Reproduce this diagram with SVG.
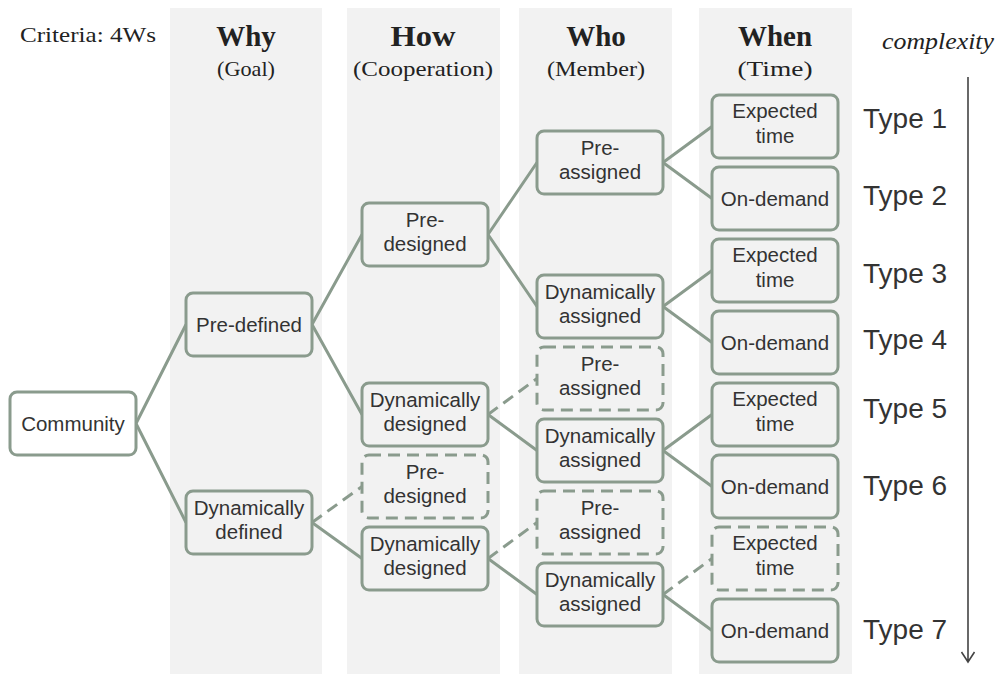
<svg xmlns="http://www.w3.org/2000/svg" width="998" height="674" viewBox="0 0 998 674">
<style>
.band{fill:#f2f2f2}
.node{fill:#f2f2f2;stroke:#8a9b8d;stroke-width:3}
.dash{stroke-dasharray:12 7}
.white{fill:#ffffff}
.t{font-family:"Liberation Sans",Arial,sans-serif;font-size:20.5px;fill:#333;text-anchor:middle}
.hd{font-family:"Liberation Serif","Times New Roman",serif;font-weight:bold;font-size:29px;fill:#222;text-anchor:middle}
.sub{font-family:"Liberation Serif","Times New Roman",serif;font-size:22px;fill:#222;text-anchor:middle}
.type{font-family:"Liberation Sans",Arial,sans-serif;font-size:28px;fill:#333}
.c{fill:none;stroke:#8a9b8d;stroke-width:3}
</style>
<rect width="998" height="674" fill="#ffffff"/>
<g id="bands">
<rect class="band" x="170" y="8" width="152" height="666"/>
<rect class="band" x="347" y="8" width="153" height="666"/>
<rect class="band" x="519" y="8" width="153" height="666"/>
<rect class="band" x="699" y="8" width="153" height="666"/>
</g>
<g id="headers">
<text x="20" y="42" font-family="'Liberation Serif', 'Times New Roman', serif" font-size="22" fill="#222" textLength="136" lengthAdjust="spacingAndGlyphs">Criteria: 4Ws</text>
<text class="hd" x="246" y="46">Why</text>
<text class="sub" x="246" y="76" textLength="58" lengthAdjust="spacingAndGlyphs">(Goal)</text>
<text class="hd" x="423" y="46" textLength="65" lengthAdjust="spacingAndGlyphs">How</text>
<text class="sub" x="423" y="76" textLength="140" lengthAdjust="spacingAndGlyphs">(Cooperation)</text>
<text class="hd" x="596" y="46">Who</text>
<text class="sub" x="596" y="76" textLength="98" lengthAdjust="spacingAndGlyphs">(Member)</text>
<text class="hd" x="775" y="46">When</text>
<text class="sub" x="775" y="76" textLength="75" lengthAdjust="spacingAndGlyphs">(Time)</text>
<text x="882" y="49" font-family="'Liberation Serif', 'Times New Roman', serif" font-style="italic" font-size="23" fill="#222" textLength="112" lengthAdjust="spacingAndGlyphs">complexity</text>
</g>
<g id="connectors">
<path class="c" d="M136 423.5 L186 324.5 M136 423.5 L186 522.5"/>
<path class="c" d="M312 324.5 L362 234.5 M312 324.5 L362 414.5 M312 522.5 L362 558.5"/>
<path class="c dash" d="M312 522.5 L362 486.5"/>
<path class="c" d="M488 234.5 L537 162.5 M488 234.5 L537 306.5 M488 414.5 L537 450.5 M488 558.5 L537 594.5"/>
<path class="c dash" d="M488 414.5 L537 378.5 M488 558.5 L537 522.5"/>
<path class="c" d="M663 162.5 L712 126.5 M663 162.5 L712 198.5 M663 306.5 L712 270.5 M663 306.5 L712 342.5 M663 450.5 L712 414.5 M663 450.5 L712 486.5 M663 594.5 L712 630.5"/>
<path class="c dash" d="M663 594.5 L712 558.5"/>
<path d="M968 77 L968 662 M961.5 652 L968 662 L974.5 652" fill="none" stroke="#444" stroke-width="1.6"/>
</g>
<g id="community"><rect class="node white" x="10" y="392" width="126" height="63" rx="7"/><text class="t" x="73" y="430.5">Community</text></g>
<g id="why-predefined"><rect class="node" x="186" y="293" width="126" height="63" rx="7"/><text class="t" x="249" y="331.5">Pre-defined</text></g>
<g id="why-dynamic"><rect class="node" x="186" y="491" width="126" height="63" rx="7"/><text class="t" x="249" y="515">Dynamically</text><text class="t" x="249" y="539">defined</text></g>
<g id="how-1"><rect class="node" x="362" y="203" width="126" height="63" rx="7"/><text class="t" x="425" y="227">Pre-</text><text class="t" x="425" y="251">designed</text></g>
<g id="how-2"><rect class="node" x="362" y="383" width="126" height="63" rx="7"/><text class="t" x="425" y="407">Dynamically</text><text class="t" x="425" y="431">designed</text></g>
<g id="how-3"><rect class="node dash" x="362" y="455" width="126" height="63" rx="7"/><text class="t" x="425" y="479">Pre-</text><text class="t" x="425" y="503">designed</text></g>
<g id="how-4"><rect class="node" x="362" y="527" width="126" height="63" rx="7"/><text class="t" x="425" y="551">Dynamically</text><text class="t" x="425" y="575">designed</text></g>
<g id="who-1"><rect class="node" x="537" y="131" width="126" height="63" rx="7"/><text class="t" x="600" y="155">Pre-</text><text class="t" x="600" y="179">assigned</text></g>
<g id="who-2"><rect class="node" x="537" y="275" width="126" height="63" rx="7"/><text class="t" x="600" y="299">Dynamically</text><text class="t" x="600" y="323">assigned</text></g>
<g id="who-3"><rect class="node dash" x="537" y="347" width="126" height="63" rx="7"/><text class="t" x="600" y="371">Pre-</text><text class="t" x="600" y="395">assigned</text></g>
<g id="who-4"><rect class="node" x="537" y="419" width="126" height="63" rx="7"/><text class="t" x="600" y="443">Dynamically</text><text class="t" x="600" y="467">assigned</text></g>
<g id="who-5"><rect class="node dash" x="537" y="491" width="126" height="63" rx="7"/><text class="t" x="600" y="515">Pre-</text><text class="t" x="600" y="539">assigned</text></g>
<g id="who-6"><rect class="node" x="537" y="563" width="126" height="63" rx="7"/><text class="t" x="600" y="587">Dynamically</text><text class="t" x="600" y="611">assigned</text></g>
<g id="when-1"><rect class="node" x="712" y="95" width="126" height="63" rx="7"/><text class="t" x="775" y="118">Expected</text><text class="t" x="775" y="143">time</text></g>
<g id="when-2"><rect class="node" x="712" y="167" width="126" height="63" rx="7"/><text class="t" x="775" y="205.5">On-demand</text></g>
<g id="when-3"><rect class="node" x="712" y="239" width="126" height="63" rx="7"/><text class="t" x="775" y="262">Expected</text><text class="t" x="775" y="287">time</text></g>
<g id="when-4"><rect class="node" x="712" y="311" width="126" height="63" rx="7"/><text class="t" x="775" y="349.5">On-demand</text></g>
<g id="when-5"><rect class="node" x="712" y="383" width="126" height="63" rx="7"/><text class="t" x="775" y="406">Expected</text><text class="t" x="775" y="431">time</text></g>
<g id="when-6"><rect class="node" x="712" y="455" width="126" height="63" rx="7"/><text class="t" x="775" y="493.5">On-demand</text></g>
<g id="when-7"><rect class="node dash" x="712" y="527" width="126" height="63" rx="7"/><text class="t" x="775" y="550">Expected</text><text class="t" x="775" y="575">time</text></g>
<g id="when-8"><rect class="node" x="712" y="599" width="126" height="63" rx="7"/><text class="t" x="775" y="637.5">On-demand</text></g>
<g id="types">
<text class="type" x="863" y="128">Type 1</text>
<text class="type" x="863" y="205">Type 2</text>
<text class="type" x="863" y="283">Type 3</text>
<text class="type" x="863" y="349">Type 4</text>
<text class="type" x="863" y="418">Type 5</text>
<text class="type" x="863" y="495">Type 6</text>
<text class="type" x="863" y="639">Type 7</text>
</g>
</svg>
